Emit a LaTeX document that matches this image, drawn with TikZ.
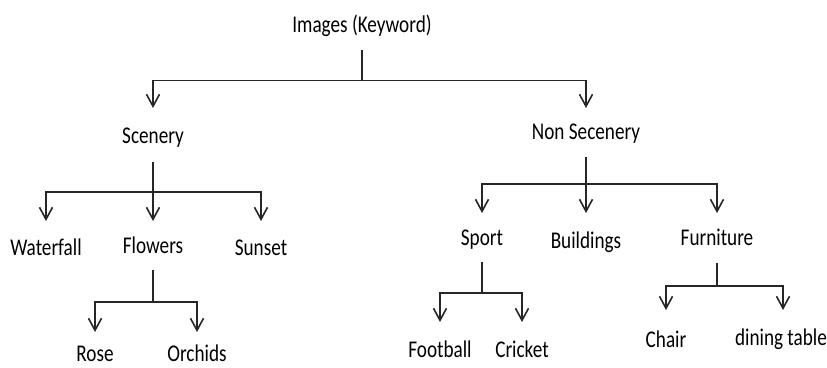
\documentclass[tikz,border=0pt]{standalone}
\usepackage{fontspec}
\setmainfont{Carlito}[FakeStretch=0.8]
\usetikzlibrary{arrows.meta}
\begin{document}
\begin{tikzpicture}[x=1pt,y=-1pt,
  lbl/.style={anchor=base,inner sep=0pt,font=\fontsize{24}{28}\selectfont,text=black},
  ln/.style={line width=1.6pt,draw=black!85},
  arr/.style={ln,-{Straight Barb[length=12pt,width=13pt]}}]
\path[use as bounding box] (0,0) rectangle (827,367);
% nodes
\node[lbl] (img) at (362,32.3) {Images (Keyword)};
\node[lbl] (sc) at (153,143) {Scenery};
\node[lbl] (ns) at (586,139) {Non Secenery};
\node[lbl] (wf) at (46,255) {Waterfall};
\node[lbl] (fl) at (153,253) {Flowers};
\node[lbl] (su) at (261,255) {Sunset};
\node[lbl] (ro) at (95,361) {Rose};
\node[lbl] (or) at (197,361) {Orchids};
\node[lbl] (sp) at (482,245) {Sport};
\node[lbl] (bu) at (586,248) {Buildings};
\node[lbl] (fu) at (717,245) {Furniture};
\node[lbl] (fb) at (440,357) {Football};
\node[lbl] (cr) at (522,357) {Cricket};
\node[lbl] (ch) at (666,347) {Chair};
\node[lbl] (dt) at (781,345) {dining table};
% Images
\draw[ln] ([yshift=-18pt]img.base) -- ([yshift=-48pt]img.base);
\draw[arr] ([yshift=-48pt]img.base) -| ([yshift=35pt]sc.base);
\draw[arr] ([yshift=-48pt]img.base) -| ([yshift=31pt]ns.base);
% Scenery
\draw[ln] ([yshift=-19pt]sc.base) -- ([yshift=-49pt]sc.base);
\draw[arr] ([yshift=-49pt]sc.base) -| ([yshift=34pt]wf.base);
\draw[arr] ([yshift=-49pt]sc.base) -- ([yshift=32pt]fl.base);
\draw[arr] ([yshift=-49pt]sc.base) -| ([yshift=34pt]su.base);
% Flowers
\draw[ln] ([yshift=-17pt]fl.base) -- ([yshift=-49pt]fl.base);
\draw[arr] ([yshift=-49pt]fl.base) -| ([yshift=29pt]ro.base);
\draw[arr] ([yshift=-49pt]fl.base) -| ([yshift=29pt]or.base);
% Non Secenery
\draw[ln] ([yshift=-18pt]ns.base) -- ([yshift=-45pt]ns.base);
\draw[arr] ([yshift=-45pt]ns.base) -| ([yshift=32pt]sp.base);
\draw[arr] ([yshift=-45pt]ns.base) -- ([yshift=35pt]bu.base);
\draw[arr] ([yshift=-45pt]ns.base) -| ([yshift=32pt]fu.base);
% Sport
\draw[ln] ([yshift=-17pt]sp.base) -- ([yshift=-48pt]sp.base);
\draw[arr] ([yshift=-48pt]sp.base) -| ([yshift=35pt]fb.base);
\draw[arr] ([yshift=-48pt]sp.base) -| ([yshift=35pt]cr.base);
% Furniture
\draw[ln] ([yshift=-18pt]fu.base) -- ([yshift=-41pt]fu.base);
\draw[arr] ([yshift=-41pt]fu.base) -| ([yshift=37pt]ch.base);
\draw[arr] ([yshift=-41pt]fu.base) -| ([xshift=2pt,yshift=35pt]dt.base);
\end{tikzpicture}
\end{document}
